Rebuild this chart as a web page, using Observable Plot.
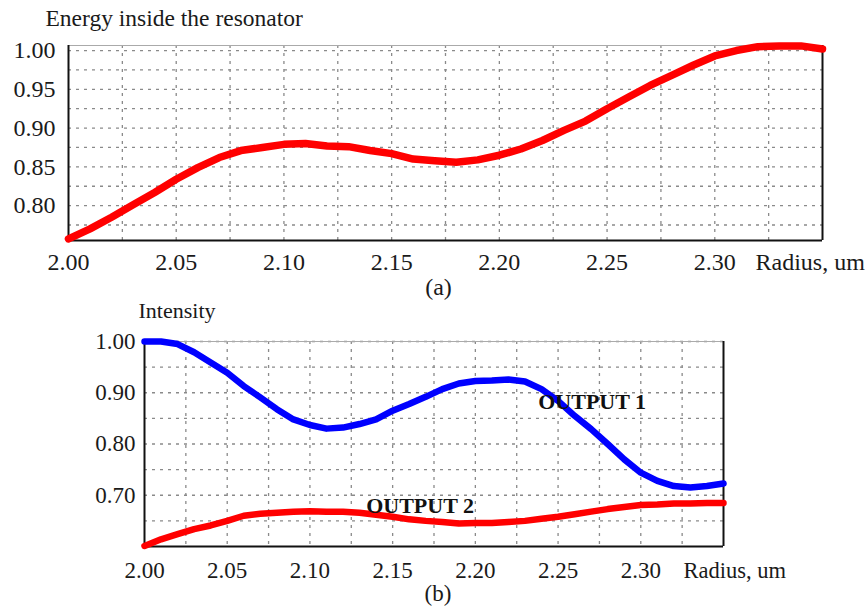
<!DOCTYPE html>
<html>
<head>
<meta charset="utf-8">
<script src="https://cdn.jsdelivr.net/npm/d3@7"></script>
<script src="https://cdn.jsdelivr.net/npm/@observablehq/plot@0.6"></script>
<style>
  html, body { margin: 0; padding: 0; background: #fff; }
  #wrap { position: relative; width: 865px; height: 607px; overflow: hidden; }
  #wrap svg { display: block; }
</style>
</head>
<body>
<div id="wrap"><div id="a"></div><div id="b"></div></div>
<script>
// ---- data ----
const radius = [2.00, 2.01, 2.02, 2.03, 2.04, 2.05, 2.06, 2.07, 2.08, 2.09,
                2.10, 2.11, 2.12, 2.13, 2.14, 2.15, 2.16, 2.17, 2.18, 2.19,
                2.20, 2.21, 2.22, 2.23, 2.24, 2.25, 2.26, 2.27, 2.28, 2.29,
                2.30, 2.31, 2.32, 2.33, 2.34, 2.35];
const energy = [0.757, 0.770, 0.785, 0.801, 0.817, 0.834, 0.849, 0.862, 0.871, 0.875,
                0.879, 0.880, 0.877, 0.876, 0.871, 0.867, 0.860, 0.858, 0.856, 0.859,
                0.865, 0.873, 0.884, 0.897, 0.909, 0.925, 0.940, 0.955, 0.968, 0.981,
                0.993, 1.000, 1.005, 1.006, 1.006, 1.002];
const output1 = [1.000, 1.000, 0.995, 0.979, 0.959, 0.939, 0.913, 0.891, 0.868, 0.848,
                 0.837, 0.830, 0.832, 0.839, 0.848, 0.865, 0.878, 0.892, 0.907, 0.918,
                 0.923, 0.924, 0.926, 0.922, 0.907, 0.884, 0.855, 0.829, 0.800, 0.770,
                 0.744, 0.728, 0.718, 0.715, 0.718, 0.723];
const output2 = [0.601, 0.614, 0.624, 0.634, 0.641, 0.650, 0.660, 0.664, 0.666, 0.668,
                 0.669, 0.668, 0.668, 0.666, 0.662, 0.658, 0.653, 0.650, 0.648, 0.645,
                 0.646, 0.646, 0.648, 0.650, 0.654, 0.658, 0.663, 0.668, 0.673, 0.677,
                 0.681, 0.682, 0.684, 0.684, 0.685, 0.685];

const radiusDomain = [2.00, 2.35];
const radiusTicks = [2.00, 2.05, 2.10, 2.15, 2.20, 2.25, 2.30];
const radiusGrid = [2.025, 2.05, 2.075, 2.10, 2.125, 2.15, 2.175, 2.20, 2.225, 2.25, 2.275, 2.30, 2.325];

const energyDomain = [0.755, 1.0065];
const energyTicks = [0.80, 0.85, 0.90, 0.95, 1.00];
const energyGrid = [0.775, 0.80, 0.825, 0.85, 0.875, 0.90, 0.925, 0.95, 0.975, 1.00];

const intensityDomain = [0.60, 1.00];
const intensityTicks = [0.70, 0.80, 0.90, 1.00];
const intensityGrid = [0.65, 0.70, 0.75, 0.80, 0.85, 0.90, 0.95, 1.00];

const outputLabels = [
  {r: 2.238, v: 0.883, text: "OUTPUT 1"},
  {r: 2.134, v: 0.680, text: "OUTPUT 2"}
];

const energyData = radius.map((r, i) => ({r, v: energy[i]}));
const out1Data = radius.map((r, i) => ({r, v: output1[i]}));
const out2Data = radius.map((r, i) => ({r, v: output2[i]}));

const FONT = "'Liberation Serif', 'Times New Roman', serif";
const fmt2 = d3.format(".2f");
const gridStyle = {stroke: "#8a8a8a", strokeWidth: 1.3, strokeDasharray: "3,5"};

// ---- chart (a) ----
const chartA = Plot.plot({
  width: 865, height: 300,
  marginLeft: 68, marginRight: 43, marginTop: 45, marginBottom: 60,
  style: {fontFamily: FONT, fontSize: "24px", color: "#1a1a1a", background: "#fff", overflow: "visible"},
  x: {domain: radiusDomain, ticks: radiusTicks, tickFormat: fmt2, tickSize: 0, tickPadding: 12, label: null},
  y: {domain: energyDomain, ticks: energyTicks, tickFormat: fmt2, tickSize: 0, tickPadding: 13, label: null},
  marks: [
    Plot.ruleX(radiusGrid, gridStyle),
    Plot.ruleY(energyGrid, gridStyle),
    Plot.ruleY([energyDomain[1]], {stroke: "#aaa", strokeWidth: 1}),
    Plot.ruleX([radiusDomain[0], radiusDomain[1]], {stroke: "#111", strokeWidth: 2}),
    Plot.ruleY([energyDomain[0]], {stroke: "#111", strokeWidth: 2}),
    Plot.line(energyData, {x: "r", y: "v", stroke: "#ff0000", strokeWidth: 7.5,
      strokeLinejoin: "round", strokeLinecap: "round"}),
    Plot.text(["Energy inside the resonator"], {text: d => d, frameAnchor: "top-left",
      textAnchor: "start", lineAnchor: "middle", dx: -23, dy: -27, fontSize: 23.5, fill: "#1a1a1a"}),
    Plot.text(["Radius, um"], {text: d => d, frameAnchor: "bottom-right",
      textAnchor: "start", lineAnchor: "middle", dx: -67, dy: 22, fontSize: 24, fill: "#1a1a1a"}),
    Plot.text(["(a)"], {text: d => d, frameAnchor: "bottom",
      textAnchor: "middle", lineAnchor: "middle", dx: -7, dy: 47, fontSize: 24, fill: "#1a1a1a"})
  ]
});
document.getElementById("a").appendChild(chartA);

// ---- chart (b) ----
const chartB = Plot.plot({
  width: 865, height: 307,
  marginLeft: 144, marginRight: 142, marginTop: 41, marginBottom: 61,
  style: {fontFamily: FONT, fontSize: "23px", color: "#1a1a1a", background: "#fff", overflow: "visible"},
  x: {domain: radiusDomain, ticks: radiusTicks, tickFormat: fmt2, tickSize: 0, tickPadding: 15, label: null},
  y: {domain: intensityDomain, ticks: intensityTicks, tickFormat: fmt2, tickSize: 0, tickPadding: 9, label: null},
  marks: [
    Plot.ruleX(radiusGrid, gridStyle),
    Plot.ruleY(intensityGrid, gridStyle),
    Plot.ruleY([intensityDomain[1]], {stroke: "#aaa", strokeWidth: 1}),
    Plot.ruleX([radiusDomain[0], radiusDomain[1]], {stroke: "#111", strokeWidth: 2}),
    Plot.ruleY([intensityDomain[0]], {stroke: "#111", strokeWidth: 2}),
    Plot.line(out2Data, {x: "r", y: "v", stroke: "#ff0000", strokeWidth: 6.5,
      strokeLinejoin: "round", strokeLinecap: "round"}),
    Plot.line(out1Data, {x: "r", y: "v", stroke: "#0000ff", strokeWidth: 6.5,
      strokeLinejoin: "round", strokeLinecap: "round"}),
    Plot.text(outputLabels, {x: "r", y: "v", text: "text", textAnchor: "start", lineAnchor: "middle",
      fontSize: 22, fontWeight: "bold", fill: "#111"}),
    Plot.text(["Intensity"], {text: d => d, frameAnchor: "top-left",
      textAnchor: "start", lineAnchor: "middle", dx: -6, dy: -31, fontSize: 22, fill: "#1a1a1a"}),
    Plot.text(["Radius, um"], {text: d => d, frameAnchor: "bottom-right",
      textAnchor: "start", lineAnchor: "middle", dx: -40, dy: 24, fontSize: 22.5, fill: "#1a1a1a"}),
    Plot.text(["(b)"], {text: d => d, frameAnchor: "bottom",
      textAnchor: "middle", lineAnchor: "middle", dx: 4, dy: 47, fontSize: 23, fill: "#1a1a1a"})
  ]
});
document.getElementById("b").appendChild(chartB);
</script>
</body>
</html>
